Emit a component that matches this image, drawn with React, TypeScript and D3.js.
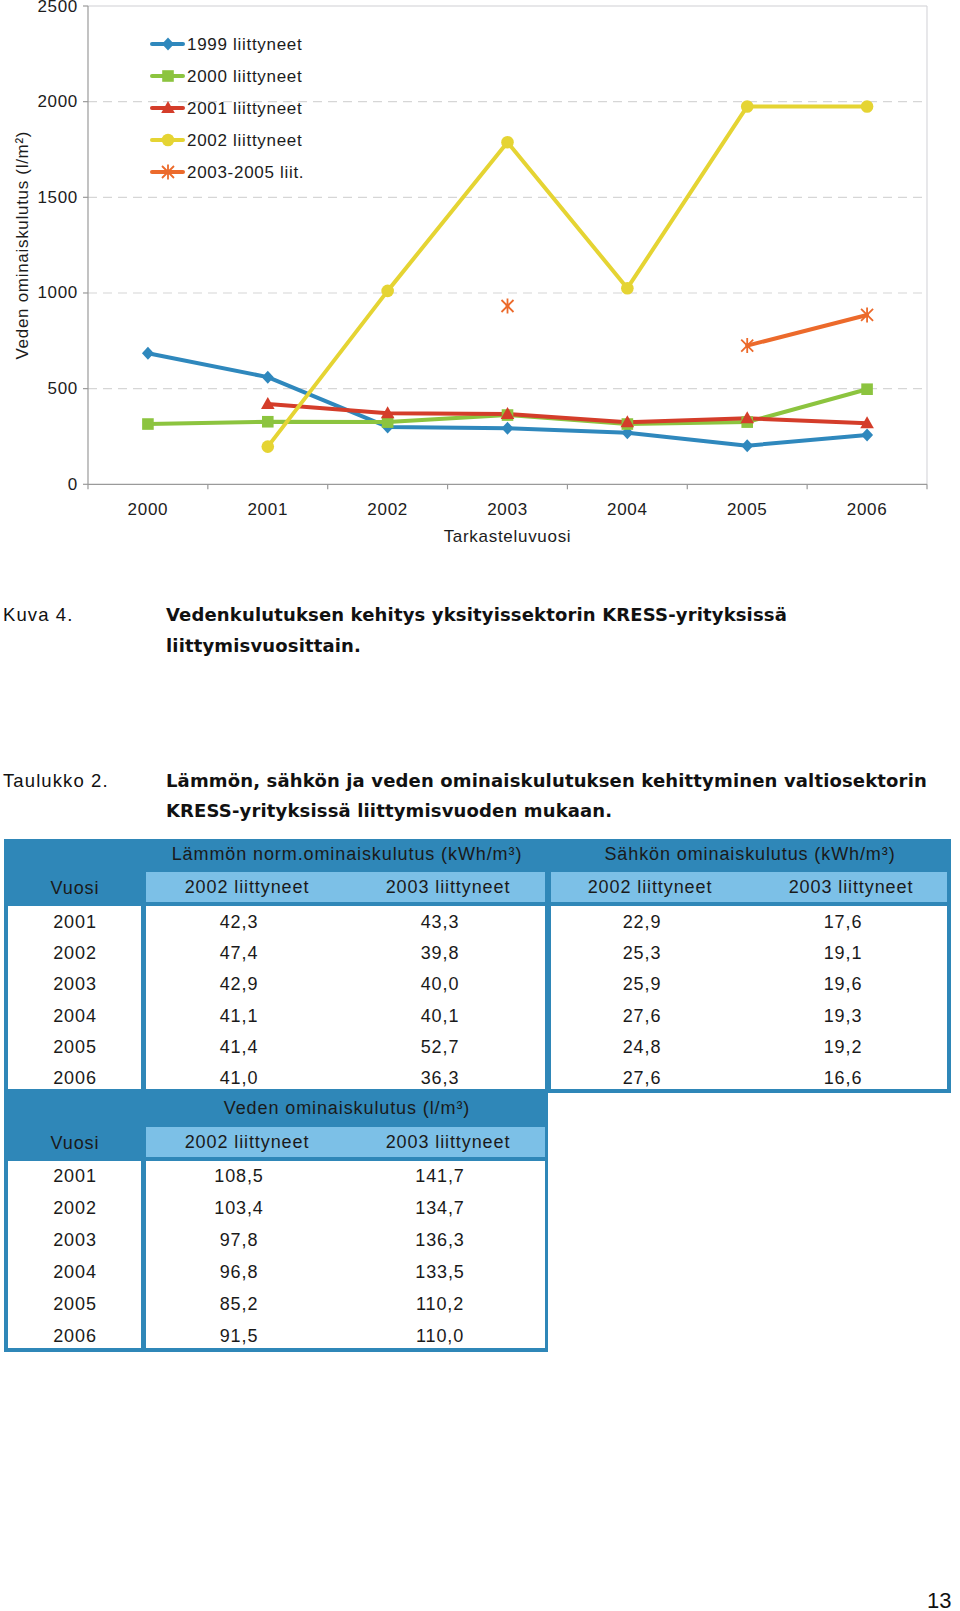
import React from 'react';
import * as d3 from 'd3';

// ---------- chart data ----------
const years = ['2000', '2001', '2002', '2003', '2004', '2005', '2006'];
const yTicks = [0, 500, 1000, 1500, 2000, 2500];
const seriesNames = ['1999 liittyneet', '2000 liittyneet', '2001 liittyneet', '2002 liittyneet', '2003-2005 liit.'];
const s1999: (number | null)[] = [685, 560, 300, 293, 270, 202, 258];
const s2000: (number | null)[] = [315, 327, 325, 362, 315, 325, 497];
const s2001: (number | null)[] = [null, 420, 371, 368, 324, 345, 319];
const s2002: (number | null)[] = [null, 197, 1011, 1788, 1025, 1975, 1975];
const s2003_05: (number | null)[] = [null, null, null, 932, null, 725, 885];
const seriesColors = ['#2f88bd', '#8cc43f', '#d43d2a', '#e5d433', '#ec6a2b'];
const seriesMarkers = ['diamond', 'square', 'triangle', 'circle', 'asterisk'];

// ---------- table data ----------
const tableYears = ['2001', '2002', '2003', '2004', '2005', '2006'];
const heat2002 = ['42,3', '47,4', '42,9', '41,1', '41,4', '41,0'];
const heat2003 = ['43,3', '39,8', '40,0', '40,1', '52,7', '36,3'];
const elec2002 = ['22,9', '25,3', '25,9', '27,6', '24,8', '27,6'];
const elec2003 = ['17,6', '19,1', '19,6', '19,3', '19,2', '16,6'];
const water2002 = ['108,5', '103,4', '97,8', '96,8', '85,2', '91,5'];
const water2003 = ['141,7', '134,7', '136,3', '133,5', '110,2', '110,0'];

const FONT = '"Liberation Sans", Arial, Helvetica, sans-serif';
const BOLDFONT = '"DejaVu Sans", "Liberation Sans", Arial, sans-serif';
const DARK = '#2f87b8';
const LIGHT = '#7cc0e7';

function markerPath(kind: string): string {
  switch (kind) {
    case 'diamond':
      return 'M0,-6.5L6,0L0,6.5L-6,0Z';
    case 'square':
      return 'M-5.8,-5.8H5.8V5.8H-5.8Z';
    case 'triangle':
      return 'M0,-7L6.8,5L-6.8,5Z';
    case 'circle':
      return d3.symbol(d3.symbolCircle, Math.PI * 6.3 * 6.3)() || '';
    case 'asterisk':
      return 'M-6,-6L6,6M-6,6L6,-6M0,-7.5V7.5';
    default:
      return '';
  }
}

function Marker({ kind, color, x, y }: { kind: string; color: string; x: number; y: number }) {
  const d = markerPath(kind);
  if (kind === 'asterisk') {
    return <path d={d} transform={`translate(${x},${y})`} stroke={color} strokeWidth={1.8} fill="none" />;
  }
  return <path d={d} transform={`translate(${x},${y})`} fill={color} />;
}

function Chart() {
  const left = 88, right = 927, top = 6, bottom = 484.3;
  const xBand = d3.scaleBand().domain(years).range([left, right]);
  const x = (yr: string) => (xBand(yr) as number) + xBand.bandwidth() / 2;
  const y = d3.scaleLinear().domain([0, 2500]).range([bottom, top]);
  const allSeries = [s1999, s2000, s2001, s2002, s2003_05];
  const line = d3
    .line<number | null>()
    .defined((d) => d !== null)
    .x((_, i) => x(years[i]))
    .y((d) => y(d as number));
  const boundaries = years.map((yr) => xBand(yr) as number).concat([right]);
  const textStyle = { fontFamily: FONT, fontSize: 17, letterSpacing: 0.7, fill: '#1c1c1c' } as const;
  const legendY = d3.scalePoint().domain(seriesNames).range([44, 172]);

  return (
    <g>
      {yTicks.map((t) =>
        t === 0 ? null : (
          <line
            key={t}
            x1={left}
            x2={right}
            y1={y(t)}
            y2={y(t)}
            stroke={t === 2500 ? '#cfcfd4' : '#d6d6d6'}
            strokeWidth={1.2}
            strokeDasharray={t === 2500 ? undefined : '9,6'}
          />
        )
      )}
      <line x1={right} x2={right} y1={top} y2={bottom} stroke="#d8d8dc" strokeWidth={1.2} />
      <line x1={left} x2={left} y1={top} y2={bottom} stroke="#9a9a9a" strokeWidth={1.2} />
      <line x1={left} x2={right} y1={bottom} y2={bottom} stroke="#9a9a9a" strokeWidth={1.2} />
      {yTicks.map((t) => (
        <line key={'yt' + t} x1={left - 5} x2={left} y1={y(t)} y2={y(t)} stroke="#9a9a9a" strokeWidth={1.2} />
      ))}
      {boundaries.map((b, i) => (
        <line key={'xt' + i} x1={b} x2={b} y1={bottom} y2={bottom + 5} stroke="#9a9a9a" strokeWidth={1.2} />
      ))}
      {yTicks.map((t) => (
        <text key={'yl' + t} x={left - 10} y={y(t)} textAnchor="end" dominantBaseline="central" style={textStyle}>
          {t}
        </text>
      ))}
      {years.map((yr) => (
        <text key={'xl' + yr} x={x(yr)} y={509} textAnchor="middle" dominantBaseline="central" style={textStyle}>
          {yr}
        </text>
      ))}
      <text x={(left + right) / 2} y={536} textAnchor="middle" dominantBaseline="central" style={textStyle}>
        Tarkasteluvuosi
      </text>
      <text
        transform={`translate(22,${(top + bottom) / 2}) rotate(-90)`}
        textAnchor="middle"
        dominantBaseline="central"
        style={textStyle}
      >
        Veden ominaiskulutus (l/m²)
      </text>
      {allSeries.map((s, si) => (
        <path
          key={'ln' + si}
          d={line(s) || ''}
          fill="none"
          stroke={seriesColors[si]}
          strokeWidth={4}
          strokeLinejoin="round"
          strokeLinecap="round"
        />
      ))}
      {allSeries.map((s, si) =>
        s.map((v, i) =>
          v === null ? null : (
            <Marker key={'m' + si + '-' + i} kind={seriesMarkers[si]} color={seriesColors[si]} x={x(years[i])} y={y(v)} />
          )
        )
      )}
      {seriesNames.map((name, si) => {
        const ly = legendY(name) as number;
        return (
          <g key={'lg' + si}>
            <line x1={152} x2={183} y1={ly} y2={ly} stroke={seriesColors[si]} strokeWidth={4} strokeLinecap="round" />
            <Marker kind={seriesMarkers[si]} color={seriesColors[si]} x={168} y={ly} />
            <text x={187} y={ly} dominantBaseline="central" style={textStyle}>
              {name}
            </text>
          </g>
        );
      })}
    </g>
  );
}

function Captions() {
  const reg = { fontFamily: FONT, fontSize: 18.5, letterSpacing: 1.1, fill: '#111' } as const;
  const bold = { fontFamily: BOLDFONT, fontSize: 18, letterSpacing: 0.15, fill: '#111', fontWeight: 700 } as const;
  return (
    <g>
      <text x={3} y={614} dominantBaseline="central" style={reg}>Kuva 4.</text>
      <text x={166} y={614} dominantBaseline="central" style={bold}>
        Vedenkulutuksen kehitys yksityissektorin KRESS-yrityksissä
      </text>
      <text x={166} y={645} dominantBaseline="central" style={bold}>liittymisvuosittain.</text>
      <text x={3} y={780} dominantBaseline="central" style={reg}>Taulukko 2.</text>
      <text x={166} y={780} dominantBaseline="central" style={bold}>
        Lämmön, sähkön ja veden ominaiskulutuksen kehittyminen valtiosektorin
      </text>
      <text x={166} y={810} dominantBaseline="central" style={bold}>
        KRESS-yrityksissä liittymisvuoden mukaan.
      </text>
      <text x={927} y={1600} dominantBaseline="central" style={{ fontFamily: FONT, fontSize: 22, fill: '#111' }}>
        13
      </text>
    </g>
  );
}

function Tables() {
  const t = { fontFamily: FONT, fontSize: 18, letterSpacing: 0.9, fill: '#1a1a1a' } as const;
  const colVuosi = 75;
  const cols = [247, 448, 650, 851];
  const valShift = -8;
  const rows1 = d3.scalePoint().domain(tableYears).range([922, 1078]);
  const rows2 = d3.scalePoint().domain(tableYears).range([1176, 1336]);
  const cols1 = [heat2002, heat2003, elec2002, elec2003];
  const cols2 = [water2002, water2003];
  return (
    <g>
      <rect x={4} y={839} width={947} height={254} fill={DARK} />
      <rect x={146} y={872} width={399} height={30} fill={LIGHT} />
      <rect x={551} y={872} width={396} height={30} fill={LIGHT} />
      <rect x={8} y={906} width={133} height={183} fill="#fff" />
      <rect x={146} y={906} width={399} height={183} fill="#fff" />
      <rect x={551} y={906} width={396} height={183} fill="#fff" />
      <text x={347} y={854} textAnchor="middle" dominantBaseline="central" style={t}>
        Lämmön norm.ominaiskulutus (kWh/m³)
      </text>
      <text x={750} y={854} textAnchor="middle" dominantBaseline="central" style={t}>
        Sähkön ominaiskulutus (kWh/m³)
      </text>
      <text x={colVuosi} y={888} textAnchor="middle" dominantBaseline="central" style={t}>Vuosi</text>
      {['2002 liittyneet', '2003 liittyneet', '2002 liittyneet', '2003 liittyneet'].map((h, i) => (
        <text key={'h1' + i} x={cols[i]} y={887} textAnchor="middle" dominantBaseline="central" style={t}>{h}</text>
      ))}
      {tableYears.map((yr, r) => (
        <g key={'r1' + yr}>
          <text x={colVuosi} y={rows1(yr)} textAnchor="middle" dominantBaseline="central" style={t}>{yr}</text>
          {cols1.map((c, ci) => (
            <text key={ci} x={cols[ci] + valShift} y={rows1(yr)} textAnchor="middle" dominantBaseline="central" style={t}>
              {c[r]}
            </text>
          ))}
        </g>
      ))}
      <rect x={4} y={1093} width={544} height={259} fill={DARK} />
      <rect x={146} y={1127} width={399} height={30} fill={LIGHT} />
      <rect x={8} y={1161} width={133} height={187} fill="#fff" />
      <rect x={146} y={1161} width={399} height={187} fill="#fff" />
      <text x={347} y={1108} textAnchor="middle" dominantBaseline="central" style={t}>
        Veden ominaiskulutus (l/m³)
      </text>
      <text x={colVuosi} y={1143} textAnchor="middle" dominantBaseline="central" style={t}>Vuosi</text>
      {['2002 liittyneet', '2003 liittyneet'].map((h, i) => (
        <text key={'h2' + i} x={cols[i]} y={1142} textAnchor="middle" dominantBaseline="central" style={t}>{h}</text>
      ))}
      {tableYears.map((yr, r) => (
        <g key={'r2' + yr}>
          <text x={colVuosi} y={rows2(yr)} textAnchor="middle" dominantBaseline="central" style={t}>{yr}</text>
          {cols2.map((c, ci) => (
            <text key={ci} x={cols[ci] + valShift} y={rows2(yr)} textAnchor="middle" dominantBaseline="central" style={t}>
              {c[r]}
            </text>
          ))}
        </g>
      ))}
    </g>
  );
}

export default function App() {
  return (
    <svg
      width={960}
      height={1611}
      viewBox="0 0 960 1611"
      style={{ position: 'absolute', left: 0, top: 0, display: 'block', background: '#fff' }}
    >
      <rect x={0} y={0} width={960} height={1611} fill="#fff" />
      <Chart />
      <Captions />
      <Tables />
    </svg>
  );
}
